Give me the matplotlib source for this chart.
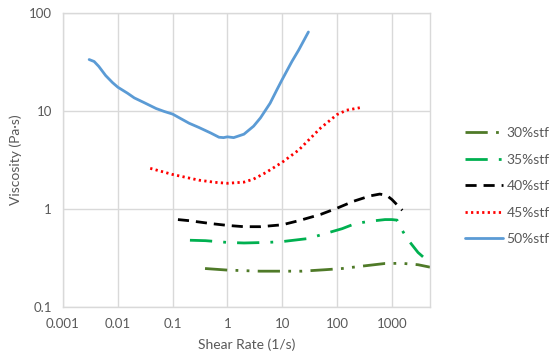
import matplotlib
matplotlib.use("Agg")
import matplotlib.pyplot as plt

labels = ["30%stf", "35%stf", "40%stf", "45%stf", "50%stf"]

x30 = [0.39, 1.0, 3.9, 10, 23, 60, 124, 300, 750, 1550, 3000, 4960]
y30 = [0.247, 0.238, 0.232, 0.232, 0.232, 0.24, 0.247, 0.262, 0.278, 0.279, 0.27, 0.255]

x35 = [0.207, 0.4, 1.0, 2.0, 5.3, 10, 30, 60, 124, 215, 400, 750, 1000, 1240, 1500, 2000, 3000, 3700]
y35 = [0.48, 0.475, 0.456, 0.45, 0.456, 0.465, 0.5, 0.56, 0.63, 0.71, 0.75, 0.78, 0.78, 0.77, 0.62, 0.48, 0.36, 0.325]

x40 = [0.125, 0.2, 0.5, 1.0, 2.0, 4.0, 10, 20, 50, 100, 200, 400, 600, 800, 1000, 1250, 1550]
y40 = [0.78, 0.76, 0.71, 0.68, 0.66, 0.66, 0.69, 0.76, 0.88, 1.02, 1.2, 1.36, 1.42, 1.38, 1.25, 1.1, 0.97]

x45 = [0.039, 0.1, 0.3, 0.6, 1.0, 2.0, 3.0, 5.0, 10, 20, 50, 100, 150, 260]
y45 = [2.6, 2.25, 1.97, 1.87, 1.83, 1.88, 2.02, 2.35, 3.0, 4.0, 6.7, 9.2, 10.2, 10.8]

x50 = [0.003, 0.0037, 0.0045, 0.006, 0.008, 0.01, 0.015, 0.02, 0.03, 0.05, 0.07, 0.1, 0.15, 0.2, 0.3, 0.5, 0.7, 0.85, 1.0, 1.3, 2.0, 3.0, 4.0, 6.0, 8.0, 10, 15, 20, 30]
y50 = [33.5, 32, 28.5, 23, 19.5, 17.5, 15.2, 13.6, 12.2, 10.6, 9.9, 9.3, 8.2, 7.5, 6.8, 5.95, 5.4, 5.35, 5.45, 5.35, 5.8, 7.0, 8.5, 12, 16.5, 21, 32, 42, 64]

xticks = [0.001, 0.01, 0.1, 1, 10, 100, 1000]
xticklabels = ["0.001", "0.01", "0.1", "1", "10", "100", "1000"]
yticks = [0.1, 1, 10, 100]
yticklabels = ["0.1", "1", "10", "100"]

plt.rcParams['font.family'] = ['Lato', 'DejaVu Sans']
fig = plt.figure(figsize=(5.5, 3.57), dpi=100)
ax = fig.add_axes([63/550, 50/357, (430-63)/550, (307-13)/357])

grey = "#595959"
ax.plot(x30, y30, color="#4F7A28", lw=2.0, dashes=(8, 3, 1, 3, 1, 3), label=labels[0])
ax.plot(x35, y35, color="#00B050", lw=2.0, dashes=(8, 4, 1, 4), label=labels[1])
ax.plot(x40, y40, color="#000000", lw=2.0, dashes=(4, 2.5), label=labels[2])
ax.plot(x45, y45, color="#FF0000", lw=2.0, dashes=(0.8, 1.2), label=labels[3])
ax.plot(x50, y50, color="#5B9BD5", lw=2.0, label=labels[4], solid_capstyle='round')

ax.set_xscale("log")
ax.set_yscale("log")
ax.set_xlim(0.001, 4960)
ax.set_ylim(0.1, 100)
ax.set_xticks(xticks)
ax.set_xticklabels(xticklabels)
ax.set_yticks(yticks)
ax.set_yticklabels(yticklabels)
ax.minorticks_off()
ax.tick_params(length=0, colors=grey, labelsize=9.5, pad=8)
ax.grid(True, color="#D9D9D9", lw=1.0)
ax.set_axisbelow(True)
for s in ax.spines.values():
    s.set_color("#D9D9D9")
    s.set_linewidth(1.0)
ax.set_xlabel("Shear Rate (1/s)", color=grey, fontsize=10, labelpad=6)
ax.set_ylabel("Viscosity (Pa·s)", color=grey, fontsize=10, labelpad=5)

leg = fig.legend(loc="upper left", bbox_to_anchor=(465/550, 1 - 127/357), frameon=False,
                 fontsize=10, labelcolor=grey, handlelength=2.7, handletextpad=0.3,
                 labelspacing=1.05, borderpad=0, borderaxespad=0)

fig.savefig("out.png", dpi=100)
